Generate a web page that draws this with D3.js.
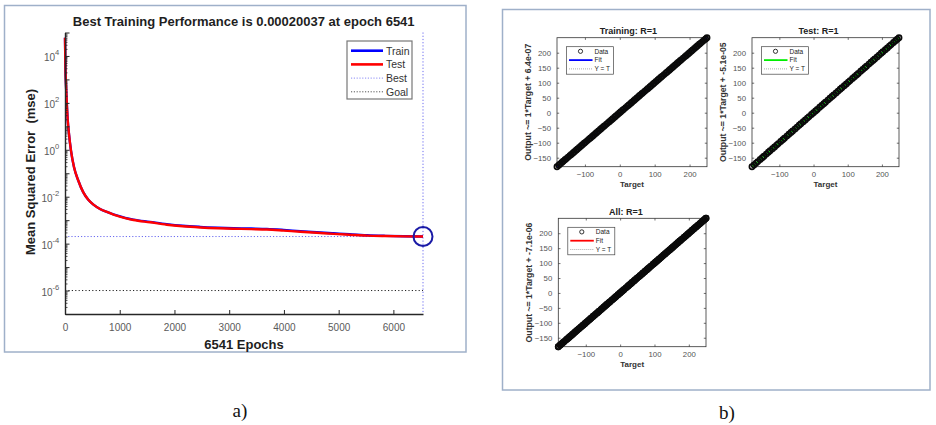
<!DOCTYPE html>
<html><head><meta charset="utf-8">
<script src="https://cdn.jsdelivr.net/npm/d3@7"></script>
<style>
body{margin:0;background:#fff}
svg{display:block}
text{font-family:"Liberation Sans",Arial,Helvetica,sans-serif}
</style>
</head><body>
<svg id="c" width="936" height="425"></svg>
<script>
// ---------- DATA ----------
const epochs    = [0, 8, 18, 31, 50, 73, 110, 165, 244, 330, 426, 520, 640, 800, 945, 1100, 1250, 1554, 1860, 2150, 2469, 2800, 3079, 3400, 3689, 3994, 4299, 4600, 4908, 5200, 5518, 5850, 6200, 6541];
const testPerf  = [6e4, 3e3, 600, 120, 18, 4.7, 0.9, 0.18, 0.048, 0.016, 7.4e-3, 4.6e-3, 3.0e-3, 2.1e-3, 1.55e-3, 1.22e-3, 1.02e-3, 8.1e-4, 6.4e-4, 5.5e-4, 4.9e-4, 4.5e-4, 4.3e-4, 4.15e-4, 4.0e-4, 3.6e-4, 3.2e-4, 2.9e-4, 2.6e-4, 2.4e-4, 2.2e-4, 2.1e-4, 2.03e-4, 2.0037e-4];
const trainPerf = [6e4, 3e3, 600, 120, 18, 4.7, 0.9, 0.18, 0.048, 0.016, 7.4e-3, 4.6e-3, 3.0e-3, 2.1e-3, 1.6e-3, 1.26e-3, 1.06e-3, 8.5e-4, 6.8e-4, 5.8e-4, 5.2e-4, 4.8e-4, 4.55e-4, 4.4e-4, 4.25e-4, 3.85e-4, 3.4e-4, 3.05e-4, 2.75e-4, 2.5e-4, 2.28e-4, 2.15e-4, 2.06e-4, 2.0037e-4];
const bestEpoch = 6541;
const bestPerf = 0.00020037;
const goalPerf = 1e-6;
const perfXTicks = [0, 1000, 2000, 3000, 4000, 5000, 6000];
const perfYTicks = [1e4, 1e2, 1e0, 1e-2, 1e-4, 1e-6];
const perfYDomain = [1e-7, 1e5];
const perfLegend = ["Train", "Test", "Best", "Goal"];
const perfTitle = "Best Training Performance is 0.00020037 at epoch 6541";
const perfXLabel = "6541 Epochs";
const perfYLabel = "Mean Squared Error  (mse)";

const trainTargets = [-180, -175, -171, -166, -162, -157, -153, -148, -143, -139, -134, -130, -125, -121, -116, -111, -107, -102, -98, -93, -88, -84, -79, -75, -70, -66, -61, -56, -52, -47, -43, -38, -33, -29, -24, -20, -15, -11, -6, -1, 3, 8, 12, 17, 22, 26, 31, 35, 40, 44, 49, 54, 58, 63, 67, 72, 77, 81, 86, 90, 95, 99, 104, 109, 113, 118, 122, 127, 132, 136, 141, 145, 150, 154, 159, 164, 168, 173, 177, 182, 187, 191, 196, 200, 205, 209, 214, 219, 223, 228, 232, 237, 242, 246, 250];
const trainOutputs = trainTargets;           // R = 1
const testTargets = [-180, -174, -168, -163, -156, -150, -145, -138, -132, -127, -120, -114, -108, -103, -96, -90, -85, -78, -72, -66, -61, -54, -48, -42, -37, -30, -24, -18, -13, -6, 0, 6, 11, 18, 24, 30, 35, 42, 48, 54, 59, 66, 72, 78, 83, 90, 96, 102, 107, 114, 120, 126, 131, 138, 144, 150, 155, 162, 168, 174, 179, 186, 192, 198, 203, 210, 216, 222, 227, 234, 240, 245, 250];
const testOutputs = testTargets;             // R = 1
const allTargets = trainTargets.concat(testTargets);
const allOutputs = trainOutputs.concat(testOutputs);
const regTitles = ["Training: R=1", "Test: R=1", "All: R=1"];
const regIntercepts = [6.4e-07, -5.1e-05, -7.1e-06];
const regInterceptLabels = ["6.4e-07", "-5.1e-05", "-7.1e-06"];
const regXTicks = [-100, 0, 100, 200];
const regYTicks = [-150, -100, -50, 0, 50, 100, 150, 200];
const regLegend = ["Data", "Fit", "Y = T"];
const panelLabels = ["a)", "b)"];

// ---------- DRAW ----------
const svg = d3.select("#c");
const FR = "#9fb0c9";
svg.append("rect").attr("x",4.5).attr("y",5.5).attr("width",461.5).attr("height",346.5)
  .attr("fill","none").attr("stroke",FR).attr("stroke-width",1.5);
svg.append("rect").attr("x",502.5).attr("y",9.5).attr("width",427.5).attr("height",380.5)
  .attr("fill","none").attr("stroke",FR).attr("stroke-width",1.5);

// ----- performance plot -----
const L = {x0:65, x1:423, y0:32.5, y1:314};
const x = d3.scaleLinear().domain([0, bestEpoch]).range([L.x0, L.x1]);
const y = d3.scaleLog().domain(perfYDomain).range([L.y1, L.y0]);
const AX = "#262626";

const pg = svg.append("g");
pg.append("line").attr("x1",L.x0).attr("x2",L.x1).attr("y1",y(goalPerf)).attr("y2",y(goalPerf))
  .attr("stroke","#222").attr("stroke-width",1).attr("stroke-dasharray","1.2,2.2");
pg.append("line").attr("x1",L.x0).attr("x2",L.x1).attr("y1",y(bestPerf)).attr("y2",y(bestPerf))
  .attr("stroke","#6a6af0").attr("stroke-width",1).attr("stroke-dasharray","1.2,2");
pg.append("line").attr("x1",x(bestEpoch)).attr("x2",x(bestEpoch)).attr("y1",L.y0).attr("y2",L.y1)
  .attr("stroke","#6a6af0").attr("stroke-width",1).attr("stroke-dasharray","1.2,2");

const line = d3.line().x((d,i)=>x(epochs[i])).y(d=>y(d)).curve(d3.curveMonotoneX);
pg.append("path").datum(trainPerf).attr("d",line).attr("fill","none").attr("stroke","#0000ff").attr("stroke-width",2.4);
pg.append("path").datum(testPerf).attr("d",line).attr("fill","none").attr("stroke","#ff0000").attr("stroke-width",2.4);

pg.append("circle").attr("cx",x(bestEpoch)).attr("cy",y(bestPerf)).attr("r",9.5)
  .attr("fill","none").attr("stroke","#1a1aa6").attr("stroke-width",2);

// x axis
const gx = svg.append("g").attr("transform",`translate(0,${L.y1})`)
  .call(d3.axisBottom(x).tickValues(perfXTicks).tickFormat(d3.format("d")).tickSizeInner(-4).tickSizeOuter(0).tickPadding(9.4));
gx.select(".domain").attr("stroke",AX).attr("stroke-width",1.4);
gx.selectAll(".tick line").attr("stroke",AX);
gx.selectAll(".tick text").attr("fill","#5a5a5a").attr("font-size",10);

// y axis: decades + minor
const decades = [], minors = [];
for (let e=-7; e<=5; e++) { decades.push(Math.pow(10,e)); if (e<5) for (let k=2;k<=9;k++) minors.push(k*Math.pow(10,e)); }
const gyMinor = svg.append("g").attr("transform",`translate(${L.x0},0)`)
  .call(d3.axisLeft(y).tickValues(minors).tickSizeInner(-2.5).tickSizeOuter(0).tickFormat(()=>""));
gyMinor.select(".domain").remove();
gyMinor.selectAll(".tick line").attr("stroke",AX).attr("stroke-width",0.8);
const gyMajor = svg.append("g").attr("transform",`translate(${L.x0},0)`)
  .call(d3.axisLeft(y).tickValues(decades).tickSizeInner(-4.5).tickSizeOuter(0).tickFormat(()=>""));
gyMajor.select(".domain").remove();
gyMajor.selectAll(".tick line").attr("stroke",AX);
const gy = svg.append("g").attr("transform",`translate(${L.x0},0)`)
  .call(d3.axisLeft(y).tickValues(perfYTicks).tickSize(0).tickPadding(5.7).tickFormat(()=>""));
gy.select(".domain").attr("stroke",AX).attr("stroke-width",1.4);
gy.selectAll(".tick text").each(function(d){
  const t = d3.select(this).attr("fill","#5a5a5a").attr("font-size",10).attr("dy","0.5em");
  t.append("tspan").text("10");
  t.append("tspan").attr("font-size",7.6).attr("dy",-6.5).text(String(Math.round(Math.log10(d))));
});

// labels
svg.append("text").attr("x",243.7).attr("y",25.5).attr("text-anchor","middle")
  .attr("font-size",13).attr("font-weight","bold").attr("fill","#1e1e1e").text(perfTitle);
svg.append("text").attr("x",244).attr("y",348.5).attr("text-anchor","middle")
  .attr("font-size",13).attr("font-weight","bold").attr("fill","#1e1e1e").text(perfXLabel);
svg.append("text").attr("transform","translate(34.5,172) rotate(-90)").attr("text-anchor","middle")
  .style("white-space","pre").attr("font-size",13).attr("font-weight","bold").attr("fill","#1e1e1e").text(perfYLabel);

// legend
const lg = svg.append("g");
lg.append("rect").attr("x",347).attr("y",41).attr("width",65).attr("height",58)
  .attr("fill","#fff").attr("stroke","#777").attr("stroke-width",1.2);
const legStyles = [
  {c:"#0000ff", w:2.6, d:null},
  {c:"#ff0000", w:2.6, d:null},
  {c:"#8a8af5", w:1, d:"1.2,1.6"},
  {c:"#555", w:1, d:"1.2,1.6"}
];
perfLegend.forEach((name,i)=>{
  const yy = 50.7 + i*13.7;
  const s = legStyles[i];
  const ln = lg.append("line").attr("x1",351).attr("x2",383).attr("y1",yy).attr("y2",yy)
    .attr("stroke",s.c).attr("stroke-width",s.w);
  if (s.d) ln.attr("stroke-dasharray",s.d);
  lg.append("text").attr("x",386).attr("y",yy+3.8).attr("font-size",10.5).attr("fill","#333").text(name);
});

// ----- regression plots -----
function regPlot(box, targets, outputs, idx, fitColor, titleX) {
  const g = svg.append("g");
  const ext = d3.extent(targets.concat(outputs));
  const xs = d3.scaleLinear().domain(ext).range([box.x0, box.x1]);
  const ys = d3.scaleLinear().domain(ext).range([box.y1, box.y0]);
  g.append("rect").attr("x",box.x0).attr("y",box.y0).attr("width",box.x1-box.x0).attr("height",box.y1-box.y0)
    .attr("fill","#fff").attr("stroke","#333").attr("stroke-width",0.8);
  const tick = (sel)=>{ sel.select(".domain").remove(); sel.selectAll(".tick line").attr("stroke","#333").attr("stroke-width",0.7);
    sel.selectAll(".tick text").attr("fill","#555").attr("font-size",7.8); };
  g.append("g").attr("transform",`translate(0,${box.y1})`)
    .call(d3.axisBottom(xs).tickValues(regXTicks).tickSizeInner(-2.2).tickSizeOuter(0).tickPadding(4.5)).call(tick);
  g.append("g").attr("transform",`translate(0,${box.y0})`)
    .call(d3.axisTop(xs).tickValues(regXTicks).tickSizeInner(-2.2).tickSizeOuter(0).tickFormat(()=>"")).call(tick);
  g.append("g").attr("transform",`translate(${box.x0},0)`)
    .call(d3.axisLeft(ys).tickValues(regYTicks).tickSizeInner(-2.2).tickSizeOuter(0).tickPadding(6)).call(tick);
  g.append("g").attr("transform",`translate(${box.x1},0)`)
    .call(d3.axisRight(ys).tickValues(regYTicks).tickSizeInner(-2.2).tickSizeOuter(0).tickFormat(()=>"")).call(tick);
  g.append("line").attr("x1",xs(ext[0])).attr("y1",ys(ext[0])).attr("x2",xs(ext[1])).attr("y2",ys(ext[1]))
    .attr("stroke","#888").attr("stroke-width",0.8).attr("stroke-dasharray","1,1.5");
  const b = regIntercepts[idx];
  g.append("line").attr("x1",xs(ext[0])).attr("y1",ys(ext[0]+b)).attr("x2",xs(ext[1])).attr("y2",ys(ext[1]+b))
    .attr("stroke",fitColor).attr("stroke-width",1.8);
  g.selectAll("circle.d").data(targets).join("circle").attr("class","d")
    .attr("cx",d=>xs(d)).attr("cy",(d,i)=>ys(outputs[i])).attr("r",2.6)
    .attr("fill","none").attr("stroke","#0a0a0a").attr("stroke-width",1.7);
  g.append("text").attr("x",titleX).attr("y",box.y0-3.6).attr("text-anchor","middle")
    .attr("font-size",9).attr("font-weight","bold").attr("fill","#222").text(regTitles[idx]);
  g.append("text").attr("x",(box.x0+box.x1)/2).attr("y",box.y1+20.5).attr("text-anchor","middle")
    .attr("font-size",8).attr("font-weight","bold").attr("fill","#333").text("Target");
  g.append("text").attr("transform",`translate(${box.x0-26},${(box.y0+box.y1)/2}) rotate(-90)`).attr("text-anchor","middle")
    .attr("font-size",8.7).attr("font-weight","bold").attr("fill","#333")
    .text("Output ~= 1*Target + " + regInterceptLabels[idx]);
  const lx = box.x0+9.5, ly = box.y0+9;
  g.append("rect").attr("x",lx).attr("y",ly).attr("width",47).attr("height",27.5)
    .attr("fill","#fff").attr("stroke","#444").attr("stroke-width",0.7);
  const rows = [ly+4.6, ly+13.4, ly+22.2];
  g.append("circle").attr("cx",lx+14).attr("cy",rows[0]).attr("r",2.1).attr("fill","none").attr("stroke","#000").attr("stroke-width",0.8);
  g.append("line").attr("x1",lx+2.5).attr("x2",lx+26).attr("y1",rows[1]).attr("y2",rows[1]).attr("stroke",fitColor).attr("stroke-width",1.8);
  g.append("line").attr("x1",lx+2.5).attr("x2",lx+26).attr("y1",rows[2]).attr("y2",rows[2]).attr("stroke","#888").attr("stroke-width",0.7).attr("stroke-dasharray","1,1");
  regLegend.forEach((t,i)=>{
    g.append("text").attr("x",lx+28).attr("y",rows[i]+2.3).attr("font-size",6.5).attr("fill","#222").text(t);
  });
}
regPlot({x0:557, x1:707, y0:37.7, y1:166.7}, trainTargets, trainOutputs, 0, "#0000ff", 628.5);
regPlot({x0:752, x1:899, y0:37.7, y1:166.7}, testTargets, testOutputs, 1, "#00ee00", 818.5);
regPlot({x0:558.3, x1:706, y0:218.3, y1:346.7}, allTargets, allOutputs, 2, "#ff0000", 625.8);

// panel labels
svg.append("text").attr("x",240).attr("y",417).attr("text-anchor","middle")
  .style("font-family","'Liberation Serif','Times New Roman',serif").attr("font-size",19).attr("fill","#111").text(panelLabels[0]);
svg.append("text").attr("x",727).attr("y",419).attr("text-anchor","middle")
  .style("font-family","'Liberation Serif','Times New Roman',serif").attr("font-size",19).attr("fill","#111").text(panelLabels[1]);
</script>
</body></html>
